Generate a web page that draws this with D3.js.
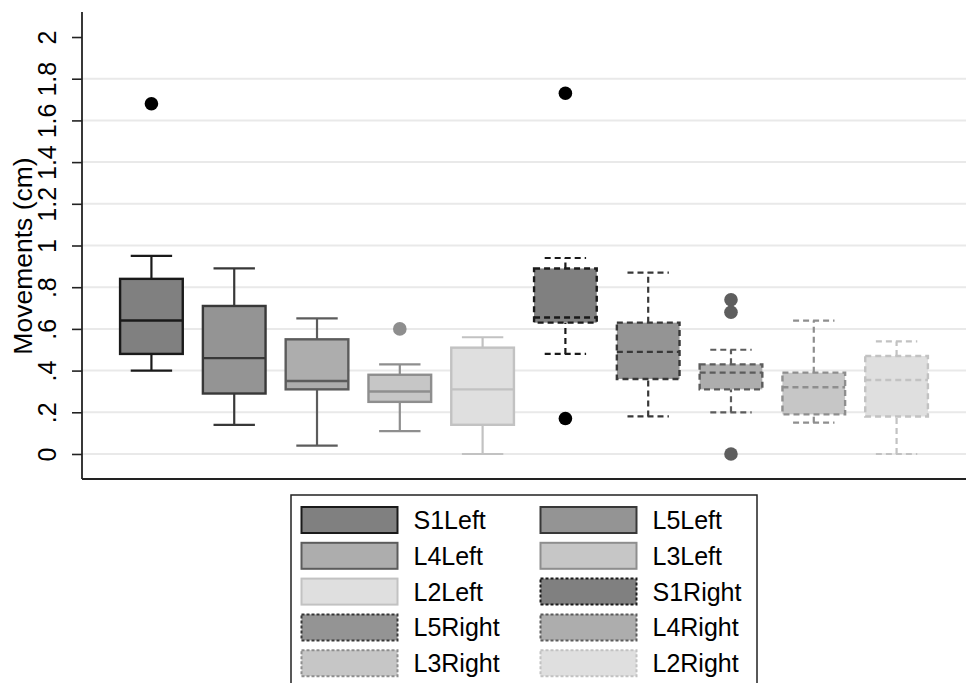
<!DOCTYPE html>
<html><head><meta charset="utf-8">
<script src="https://cdn.jsdelivr.net/npm/d3@7"></script>
<style>body{margin:0;background:#fff}svg{display:block}</style>
</head><body>
<svg id="chart" width="968" height="683"></svg>
<script>
// ---- data ----
const categories = ["S1Left","L5Left","L4Left","L3Left","L2Left","S1Right","L5Right","L4Right","L3Right","L2Right"];
const whiskerLow  = [0.40, 0.14, 0.04, 0.11, 0.00, 0.48, 0.18, 0.20, 0.15, 0.00];
const q1          = [0.48, 0.29, 0.31, 0.25, 0.14, 0.63, 0.36, 0.31, 0.19, 0.18];
const medians     = [0.64, 0.46, 0.35, 0.30, 0.31, 0.655,0.49, 0.39, 0.32, 0.355];
const q3          = [0.84, 0.71, 0.55, 0.38, 0.51, 0.89, 0.63, 0.43, 0.39, 0.47];
const whiskerHigh = [0.95, 0.89, 0.65, 0.43, 0.56, 0.94, 0.87, 0.50, 0.64, 0.54];
const outliers    = [[1.68],[],[],[0.60],[],[1.73,0.17],[],[0.74,0.68,0.0],[],[]];
const yTicks      = [0,0.2,0.4,0.6,0.8,1,1.2,1.4,1.6,1.8,2];
const yTickLabels = ["0",".2",".4",".6",".8","1","1.2","1.4","1.6","1.8","2"];
const gridTicks   = [0,0.2,0.4,0.6,0.8,1,1.2,1.4,1.6,1.8];

// ---- styles ----
const fills   = ["#808080","#949494","#adadad","#c6c6c6","#dfdfdf"];
const strokes = ["#1a1a1a","#383838","#5c5c5c","#8e8e8e","#c2c2c2"];
const font = "'Liberation Sans', Arial, Helvetica, sans-serif";

const svg = d3.select("#chart");
const pLeft = 82, pRight = 966, pTop = 12, pBottom = 479;

const x = d3.scaleBand().domain(categories).range([pLeft, pRight]).paddingInner(0.243).paddingOuter(0.46);
const y = d3.scaleLinear().domain([-0.12, 2.12]).range([pBottom, pTop]);

// gridlines
svg.append("g").selectAll("line").data(gridTicks).join("line")
  .attr("x1", pLeft).attr("x2", pRight)
  .attr("y1", d => y(d)).attr("y2", d => y(d))
  .attr("stroke", "#e9e9e9").attr("stroke-width", 2);

// y axis
const yAxis = d3.axisLeft(y).tickValues(yTicks).tickFormat((d,i) => yTickLabels[i]).tickSize(10).tickSizeOuter(0);
const ga = svg.append("g").attr("transform", `translate(${pLeft},0)`).call(yAxis);
ga.select(".domain").remove();
ga.selectAll(".tick line").attr("stroke", "#222").attr("stroke-width", 1.6);
ga.selectAll(".tick text")
  .attr("font-family", font).attr("font-size", 25).attr("fill", "#000")
  .attr("x", null).attr("dy", null)
  .attr("text-anchor", "middle")
  .attr("transform", "translate(-26,0) rotate(-90)");

// axis lines
svg.append("line").attr("x1", pLeft).attr("x2", pLeft).attr("y1", pTop).attr("y2", pBottom)
  .attr("stroke", "#222").attr("stroke-width", 1.8);
svg.append("line").attr("x1", pLeft).attr("x2", pRight).attr("y1", pBottom).attr("y2", pBottom)
  .attr("stroke", "#222").attr("stroke-width", 1.8);

// y title
svg.append("text").attr("transform", "translate(32,256) rotate(-90)")
  .attr("text-anchor", "middle").attr("font-family", font).attr("font-size", 26.5).attr("fill", "#000")
  .text("Movements (cm)");

// boxes
const bw = x.bandwidth();
const capW = x.step() * 0.5;
categories.forEach((c, i) => {
  const k = i % 5, isRight = i >= 5;
  const cx = x(c) + bw / 2;
  const dash = isRight ? "6,4" : null;
  const g = svg.append("g");
  const st = strokes[k];
  [[whiskerLow[i], q1[i]], [q3[i], whiskerHigh[i]]].forEach(([a, b]) => {
    g.append("line").attr("x1", cx).attr("x2", cx).attr("y1", y(a)).attr("y2", y(b))
      .attr("stroke", st).attr("stroke-width", 2.2).attr("stroke-dasharray", dash);
  });
  [whiskerLow[i], whiskerHigh[i]].forEach(v => {
    g.append("line").attr("x1", cx - capW/2).attr("x2", cx + capW/2).attr("y1", y(v)).attr("y2", y(v))
      .attr("stroke", st).attr("stroke-width", 2.2).attr("stroke-dasharray", dash);
  });
  g.append("rect").attr("x", x(c)).attr("width", bw)
    .attr("y", y(q3[i])).attr("height", y(q1[i]) - y(q3[i]))
    .attr("fill", fills[k]).attr("stroke", st).attr("stroke-width", 2.4).attr("stroke-dasharray", dash);
  g.append("line").attr("x1", x(c)).attr("x2", x(c) + bw).attr("y1", y(medians[i])).attr("y2", y(medians[i]))
    .attr("stroke", st).attr("stroke-width", 2.4).attr("stroke-dasharray", dash);
  g.selectAll("circle").data(outliers[i]).join("circle")
    .attr("cx", cx).attr("cy", d => y(d)).attr("r", 6.8)
    .attr("fill", k === 0 ? "#000" : (k === 3 ? "#8e8e8e" : "#5e5e5e"));
});

// legend
const lg = svg.append("g");
lg.append("rect").attr("x", 291).attr("y", 495).attr("width", 466).attr("height", 200)
  .attr("fill", "#fff").attr("stroke", "#222").attr("stroke-width", 1.5);
categories.forEach((c, i) => {
  const k = i % 5, isRight = i >= 5;
  const row = Math.floor(i / 2), col = i % 2;
  const kx = col === 0 ? 301.5 : 540.5;
  const ky = 507 + row * 35.8;
  lg.append("rect").attr("x", kx).attr("y", ky).attr("width", 96).attr("height", 26)
    .attr("fill", fills[k]).attr("stroke", strokes[k]).attr("stroke-width", 2)
    .attr("stroke-dasharray", isRight ? "3,2" : null);
  lg.append("text").attr("x", kx + 112).attr("y", ky + 13).attr("dy", "0.36em")
    .attr("font-family", font).attr("font-size", 25).attr("fill", "#000").text(c);
});
</script>
</body></html>
